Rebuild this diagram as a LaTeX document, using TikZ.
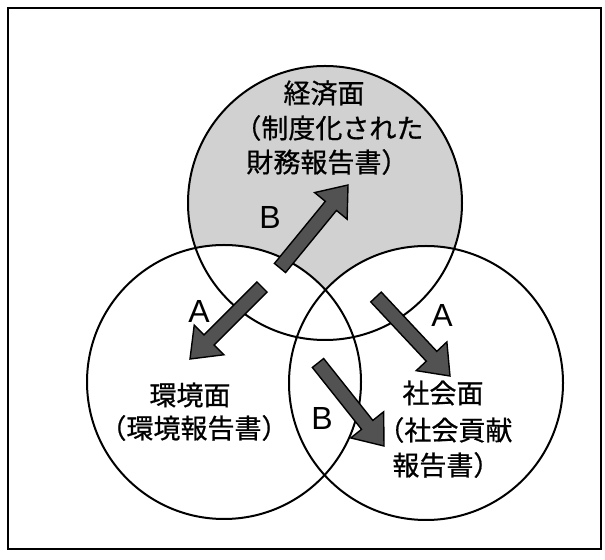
\documentclass[tikz,border=0pt]{standalone}
\usepackage{fontspec}
\setmainfont{Liberation Sans}
\newfontfamily\jpfont[FakeBold=0.7]{Noto Sans CJK JP}
\usetikzlibrary{calc}
\newcommand{\bigarrow}[2]{%
  \coordinate (hb) at ($(#2)!13.5pt!(#1)$);
  \filldraw[blockarrow]
    ($(#1)!3.6pt!90:(#2)$) -- ($(hb)!3.6pt!90:(#2)$) -- ($(hb)!10.5pt!90:(#2)$)
    -- (#2) -- ($(hb)!10.5pt!-90:(#2)$) -- ($(hb)!3.6pt!-90:(#2)$)
    -- ($(#1)!3.6pt!-90:(#2)$) -- cycle;}
\begin{document}
\begin{tikzpicture}[x=0.5pt,y=-0.5pt,
  ring/.style={draw=black,line width=1pt},
  disc/.style={circle,minimum size=137pt,inner sep=0pt,outer sep=0pt},
  jptext/.style={font=\jpfont\fontsize{13.5pt}{16pt}\selectfont,inner sep=0pt},
  letter/.style={font=\fontsize{16pt}{18pt}\selectfont,inner sep=0pt},
  blockarrow/.style={draw=black,line width=0.7pt,fill=black!68,line join=miter},
  topfill/.style={fill=black!18}]
\useasboundingbox (0,0) rectangle (605,560);
\fill[white] (0,0) rectangle (605,560);
\draw[line width=1pt] (8,8) rectangle (601,549);
% circles
\node[disc] (eco) at (325,203) {};
\node[disc] (env) at (224,382) {};
\node[disc] (soc) at (426,383) {};
\fill[topfill] (eco.center) circle[radius=68.5pt];
\fill[white] (env.center) circle[radius=68.5pt];
\fill[white] (soc.center) circle[radius=68.5pt];
\draw[ring] (eco.center) circle[radius=68.5pt];
\draw[ring] (env.center) circle[radius=68.5pt];
\draw[ring] (soc.center) circle[radius=68.5pt];
% texts
\node[jptext] (eco1) at (324,93) {経済面};
\node[jptext,anchor=west] (eco2) at (234,128) {（制度化された};
\node[jptext,anchor=west] (eco3) at (246,162) {財務報告書）};
\node[jptext] (env1) at (190,395) {環境面};
\node[jptext] (env2) at (194,428) {（環境報告書）};
\node[jptext] (soc1) at (443,393) {社会面};
\node[jptext,anchor=west] (soc2) at (377,430) {（社会貢献};
\node[jptext,anchor=west] (soc3) at (392,465) {報告書）};
% letters
\node[letter] (b1) at (270,217) {B};
\node[letter] (a1) at (199,311) {A};
\node[letter] (a2) at (442,315) {A};
\node[letter] (b2) at (322,418) {B};
% arrows
\coordinate (t1) at (280,268); \coordinate (p1) at (348,185);
\coordinate (t2) at (262,287); \coordinate (p2) at (190,359);
\coordinate (t3) at (376,297); \coordinate (p3) at (450,376);
\coordinate (t4) at (318,363); \coordinate (p4) at (384,446);
\bigarrow{t1}{p1}
\bigarrow{t2}{p2}
\bigarrow{t3}{p3}
\bigarrow{t4}{p4}
\end{tikzpicture}
\end{document}
